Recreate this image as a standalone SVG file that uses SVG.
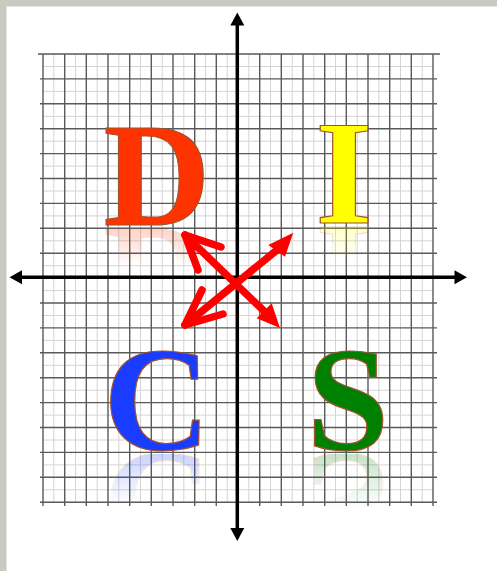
<svg xmlns="http://www.w3.org/2000/svg" width="497" height="571" viewBox="0 0 497 571">
<style>
.major{stroke:#5a5a5a;stroke-width:1.4;fill:none}
.minor{stroke:#d4d4d4;stroke-width:1;fill:none}
.axis{stroke:#000;stroke-width:3.5;fill:none}
.ahead{fill:#000}
.letter{font-family:"Liberation Serif","Times New Roman",serif;font-weight:bold;font-size:148px;text-anchor:middle;stroke:#a0522d;stroke-width:1.2}
.red{stroke:#ff0000;stroke-width:7.5;fill:none;stroke-linecap:round;stroke-linejoin:round}
.redfill{fill:#ff0000}
</style>
<defs>
<linearGradient id="fade" x1="0" y1="0" x2="0" y2="1"><stop offset="0" stop-color="#fff"/><stop offset="1" stop-color="#000"/></linearGradient>
<mask id="mD" maskUnits="userSpaceOnUse" x="0" y="0" width="497" height="571"><rect x="90" y="228" width="130" height="38" fill="url(#fade)"/></mask>
<mask id="mI" maskUnits="userSpaceOnUse" x="0" y="0" width="497" height="571"><rect x="300" y="226" width="90" height="34" fill="url(#fade)"/></mask>
<mask id="mC" maskUnits="userSpaceOnUse" x="0" y="0" width="497" height="571"><rect x="90" y="454" width="130" height="50" fill="url(#fade)"/></mask>
<mask id="mS" maskUnits="userSpaceOnUse" x="0" y="0" width="497" height="571"><rect x="300" y="454" width="100" height="54" fill="url(#fade)"/></mask>
</defs>
<rect x="0" y="0" width="497" height="571" fill="#cacac2"/>
<rect x="6.5" y="6.5" width="490.5" height="564.5" fill="#ffffff"/>
<g id="grid">
<path class="minor" d="M53.8 54V502M75.5 54V502M97.2 54V502M118.8 54V502M140.5 54V502M162.2 54V502M183.8 54V502M205.5 54V502M227.2 54V502M248.8 54V502M270.5 54V502M292.2 54V502M313.8 54V502M335.5 54V502M357.2 54V502M378.8 54V502M400.5 54V502M422.2 54V502"/>
<path class="minor" d="M43 66.5H433M43 91.4H433M43 116.3H433M43 141.2H433M43 166.1H433M43 191H433M43 215.9H433M43 240.8H433M43 265.7H433M43 290.6H433M43 315.5H433M43 340.4H433M43 365.3H433M43 390.2H433M43 415.1H433M43 440H433M43 464.9H433M43 489.8H433"/>
<path class="major" d="M43 54V506M64.7 54V506M86.3 54V506M108 54V506M129.7 54V506M151.3 54V506M173 54V506M194.7 54V506M216.3 54V506M259.7 54V506M281.3 54V506M303 54V506M324.7 54V506M346.3 54V506M368 54V506M389.7 54V506M411.3 54V506M433 54V506"/>
<path class="major" d="M38 54H440M40 78.9H437M40 103.8H437M40 128.7H437M40 153.6H437M40 178.5H437M40 203.4H437M40 228.3H437M40 253.2H437M40 303H437M40 327.9H437M40 352.8H437M40 377.7H437M40 402.6H437M40 427.5H437M40 452.4H437M40 477.3H437M40 502.2H437"/>
</g>
<g id="axes">
<path class="axis" d="M237.3 22V532M18 277.3H458"/>
<path class="ahead" d="M237.3 12.5L230.3 25.5H244.3Z"/>
<path class="ahead" d="M237.3 541L230.3 528H244.3Z"/>
<path class="ahead" d="M9.5 277.3L22 270.3V284.3Z"/>
<path class="ahead" d="M467 277.3L454.5 270.3V284.3Z"/>
</g>
<g id="node-D"><text id="tD" class="letter" fill="#ff3300" x="157" y="225">D</text></g>
<g id="node-I"><text id="tI" class="letter" fill="#ffff00" x="344" y="223">I</text></g>
<g id="node-C"><text id="tC" class="letter" fill="#1a3cff" x="157" y="450">C</text></g>
<g id="node-S"><text id="tS" class="letter" fill="#008000" x="348" y="450">S</text></g>
<g id="reflections" opacity="0.22">
<g mask="url(#mD)"><use href="#tD" transform="translate(0,454) scale(1,-1)"/></g>
<g mask="url(#mI)"><use href="#tI" transform="translate(0,450) scale(1,-1)"/></g>
<g mask="url(#mC)"><use href="#tC" transform="translate(0,904) scale(1,-1)"/></g>
<g mask="url(#mS)"><use href="#tS" transform="translate(0,904) scale(1,-1)"/></g>
</g>
<g id="connectors">
<path class="red" d="M185 235L265 312"/>
<path class="red" d="M221 247L185 235L198 270"/>
<path class="redfill" d="M280 328L256.7 318.3L271.7 303.3Z"/>
<path class="red" d="M185 325L277 250"/>
<path class="red" d="M202 290L185 325L223 314"/>
<path class="redfill" d="M293.3 232.7L268.3 245L285 256.7Z"/>
</g>
</svg>
